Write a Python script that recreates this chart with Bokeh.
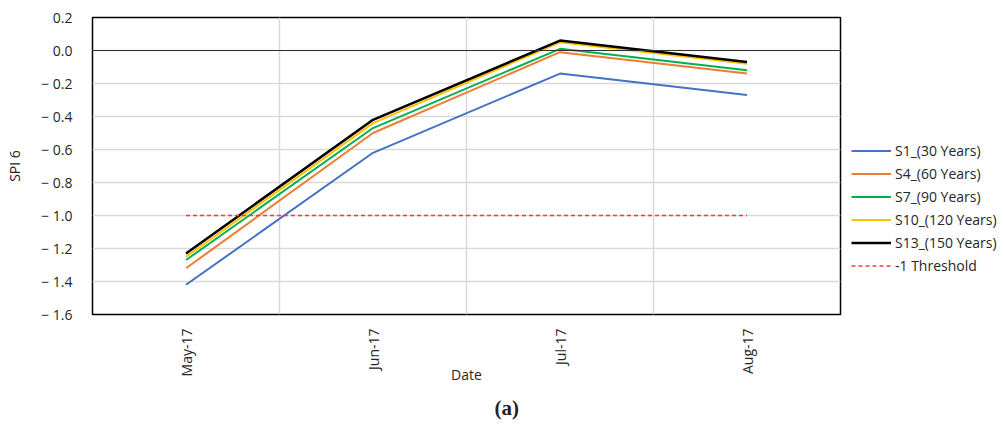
from bokeh.plotting import figure
from bokeh.models import (Range1d, FixedTicker, Legend, LegendItem, Span, Title)
from bokeh.embed import file_html
from bokeh.resources import INLINE
import numpy as np

dates = ["May-17", "Jun-17", "Jul-17", "Aug-17"]
s1 = [-1.42, -0.62, -0.14, -0.27]
s4 = [-1.32, -0.50, -0.01, -0.14]
s7 = [-1.27, -0.47, 0.01, -0.12]
s10 = [-1.25, -0.44, 0.05, -0.08]
s13 = [-1.23, -0.42, 0.06, -0.07]
threshold = [-1.0, -1.0, -1.0, -1.0]
series_names = ["S1_(30 Years)", "S4_(60 Years)", "S7_(90 Years)", "S10_(120 Years)", "S13_(150 Years)"]
y_ticks = [-1.6, -1.4, -1.2, -1.0, -0.8, -0.6, -0.4, -0.2, 0.0, 0.2]

FONT = "Open Sans"
x = list(np.arange(len(dates)) + 0.5)

p = figure(frame_width=748, frame_height=297, output_backend="svg", toolbar_location=None,
           x_range=Range1d(0, len(dates)), y_range=Range1d(-1.6, 0.2),
           min_border_left=92, min_border_top=17, min_border_bottom=0, min_border_right=164)
p.background_fill_color = "white"
p.border_fill_color = "white"
p.outline_line_color = "black"
p.outline_line_width = 1.5

# grids
p.xgrid.ticker = FixedTicker(ticks=[1, 2, 3])
p.xgrid.grid_line_color = "#d9d9d9"
p.xgrid.grid_line_width = 1.5
p.ygrid.ticker = FixedTicker(ticks=y_ticks)
p.ygrid.grid_line_color = "#d9d9d9"
p.ygrid.grid_line_width = 1.5

# axes
p.xaxis.ticker = FixedTicker(ticks=x)
p.xaxis.major_label_overrides = {xi: d for xi, d in zip(x, dates)}
p.xaxis.major_label_orientation = np.pi / 2
p.yaxis.ticker = FixedTicker(ticks=y_ticks)
p.yaxis.major_label_overrides = {t: (f"{t:.1f}".replace("-", "\u2212 ")) for t in y_ticks}
for ax in (p.xaxis[0], p.yaxis[0]):
    ax.axis_line_color = None
    ax.major_tick_line_color = None
    ax.minor_tick_line_color = None
    ax.major_label_text_font = FONT
    ax.major_label_text_font_size = "14px"
    ax.major_label_text_color = "#262626"
    ax.axis_label_text_font = FONT
    ax.axis_label_text_font_size = "14px"
    ax.axis_label_text_font_style = "normal"
    ax.axis_label_text_color = "#262626"
p.xaxis.axis_label = "Date"
p.yaxis.axis_label = "SPI 6"
p.xaxis.major_label_standoff = 8
p.yaxis.major_label_standoff = 14
p.xaxis.axis_label_standoff = -14
p.yaxis.axis_label_standoff = 14

p.add_layout(Span(location=0, dimension="width", line_color="#333333", line_width=1))

colors = ["#4472C4", "#ED7D31", "#00B050", "#FFC000", "#000000"]
widths = [2, 2, 2, 2, 2.5]
items = []
for name, ys, c, w in zip(series_names, [s1, s4, s7, s10, s13], colors, widths):
    r = p.line(x, ys, line_color=c, line_width=w)
    items.append(LegendItem(label=name, renderers=[r]))
rt = p.line(x, threshold, line_color="#FF3B3B", line_width=1.5, line_dash="4 3")
items.append(LegendItem(label="-1 Threshold", renderers=[rt]))

legend = Legend(items=items, location=(11, 39), border_line_color=None,
                background_fill_alpha=0, label_text_font=FONT, label_text_font_size="14px",
                label_text_color="#262626", glyph_width=40, glyph_height=19, spacing=4,
                label_standoff=4, padding=0, margin=0)
p.add_layout(legend, "right")

cap = Title(text="(a)", align="left", text_font="Liberation Serif", text_font_size="21px",
            text_font_style="bold", text_color="#222222", offset=402, standoff=12)
p.add_layout(cap, "below")

open("out.html", "w").write(file_html(p, INLINE))
